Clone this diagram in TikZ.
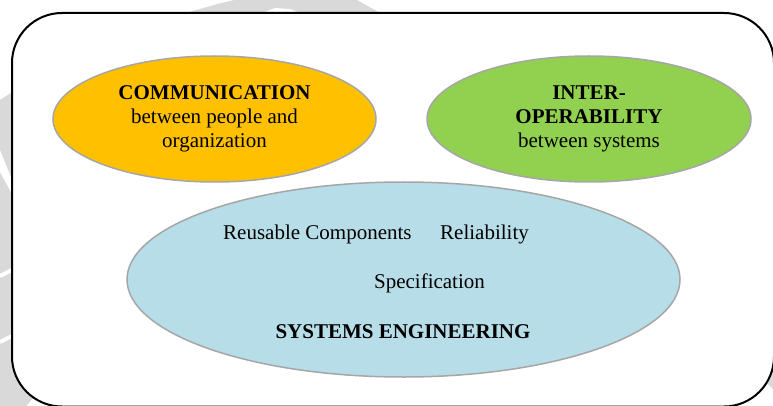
\documentclass[tikz,border=0pt]{standalone}
\usepackage{fontspec}
\setmainfont{Liberation Serif}
\usetikzlibrary{shapes.geometric}

\definecolor{commfill}{HTML}{FFC000}
\definecolor{interfill}{HTML}{92D050}
\definecolor{sysfill}{HTML}{B7DDE8}
\definecolor{bubbleline}{HTML}{A6A6A6}
\definecolor{markgray}{HTML}{D9D9D9}

\tikzset{
  bubble/.style={
    ellipse,
    draw=bubbleline,
    line width=1.5pt,
    inner sep=0pt,
    align=center,
    font=\fontsize{21}{24}\selectfont
  },
  topic/.style={
    inner sep=0pt,
    font=\fontsize{21}{24}\selectfont
  }
}

\begin{document}
\begin{tikzpicture}[x=1pt,y=-1pt]
  \useasboundingbox (0,0) rectangle (773,406);
  \clip (0,0) rectangle (773,406);

  % Watermark behind the frame
  \begin{scope}
    \clip (0,0) -- (357,0) -- (1075,406) -- (0,406) -- cycle;
    \fill[markgray, even odd rule]
      (407,730) circle[radius=750]
      (407,730) circle[radius=500];
  \end{scope}
  \fill[white] (0,150) -- (0,172) -- (12,194) -- (12,180) -- cycle;
  \draw[white, line width=4pt] (0,276) -- (12,270);
  \draw[white, line width=4pt] (0,342) -- (12,336);
  \fill[white] (262,13) -- (275,8) -- (290,9) -- (300,13) -- cycle;

  % Frame
  \draw[
    line width=2pt,
    fill=white,
    rounded corners=50pt
  ] (12,13) rectangle (774,406.5);

  % Communication
  \node[bubble, fill=commfill, minimum width=323pt, minimum height=126pt]
    (comm) at (214.5,119)
    {\textbf{COMMUNICATION}\\between people and\\organization};

  % Interoperability
  \node[bubble, fill=interfill, minimum width=324pt, minimum height=126pt]
    (inter) at (589,119)
    {\textbf{INTER-}\\\textbf{OPERABILITY}\\between systems};

  % Systems engineering
  \node[bubble, fill=sysfill, minimum width=553pt, minimum height=195pt]
    (sys) at (403.5,279.5) {};
  \node[topic, anchor=base west] (reuse) at (223,239) {Reusable Components};
  \node[topic, anchor=base west] (relia) at (440,239) {Reliability};
  \node[topic, anchor=base] (spec) at (429.5,288) {Specification};
  \node[topic, anchor=base] (syseng) at (403,338) {\textbf{SYSTEMS ENGINEERING}};
\end{tikzpicture}
\end{document}
